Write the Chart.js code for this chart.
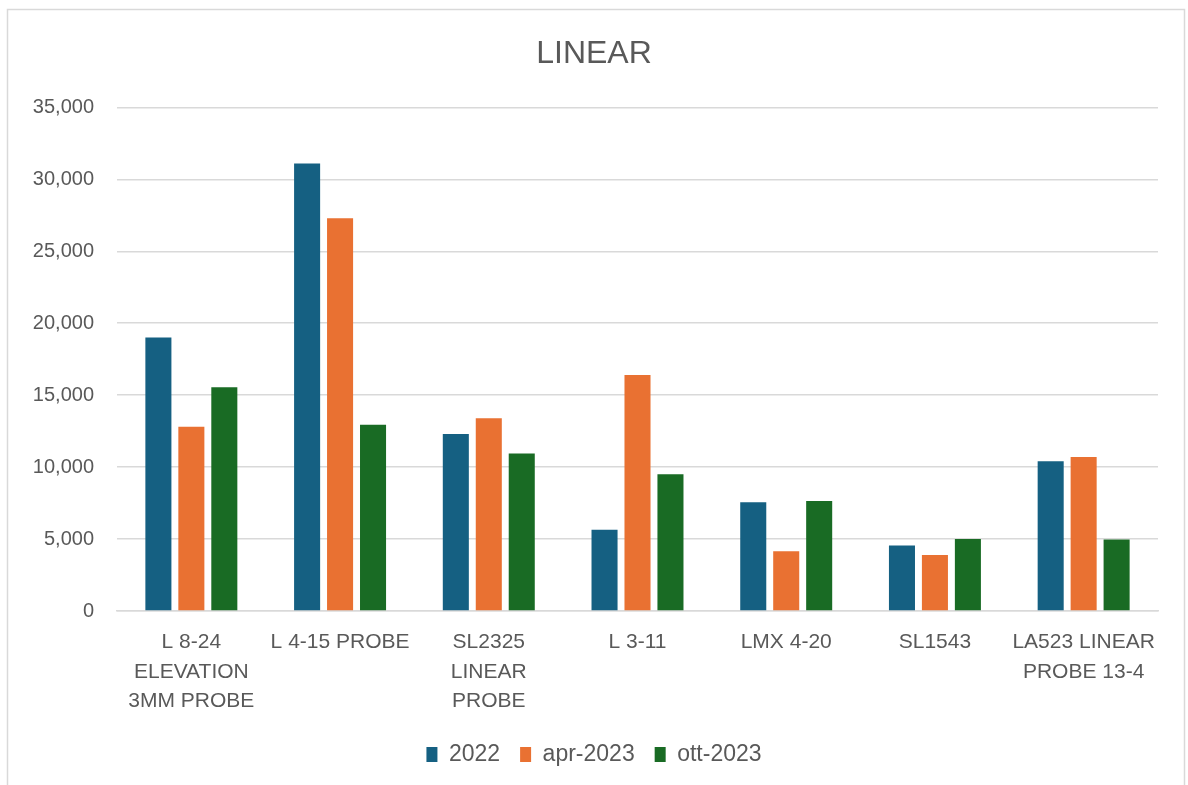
<!DOCTYPE html>
<html>
<head>
<meta charset="utf-8">
<script src="https://cdn.jsdelivr.net/npm/chart.js@4.4.1/dist/chart.umd.min.js"></script>
<style>
  html, body { margin: 0; padding: 0; background: #ffffff; }
  #wrap { position: relative; width: 1188px; height: 785px; }
  canvas { display: block; }
</style>
</head>
<body>
<div id="wrap"><canvas id="c" width="1188" height="785"></canvas></div>
<script>
const categories = [
  ["L 8-24", "ELEVATION", "3MM PROBE"],
  ["L 4-15 PROBE"],
  ["SL2325", "LINEAR", "PROBE"],
  ["L 3-11"],
  ["LMX 4-20"],
  ["SL1543"],
  ["LA523 LINEAR", "PROBE 13-4"]
];
const seriesNames = ["2022", "apr-2023", "ott-2023"];
const values2022 = [19000, 31100, 12300, 5650, 7550, 4550, 10400];
const valuesApr2023 = [12800, 27300, 13400, 16400, 4150, 3900, 10700];
const valuesOtt2023 = [15550, 12950, 10950, 9500, 7650, 5000, 4970];
const colors = ["#156082", "#E97132", "#196B24"];
const yTicks = [0, 5000, 10000, 15000, 20000, 25000, 30000, 35000];

const FONT = "'Liberation Sans', Arial, sans-serif";
const TXT = "#595959";

const borderPlugin = {
  id: 'outerBorder',
  beforeDraw(chart) {
    const ctx = chart.ctx;
    ctx.save();
    ctx.fillStyle = '#ffffff';
    ctx.fillRect(0, 0, chart.width, chart.height);
    ctx.strokeStyle = '#d9d9d9';
    ctx.lineWidth = 1.5;
    ctx.strokeRect(7.5, 9.5, 1177, 800);
    ctx.restore();
  }
};

const datasets = [values2022, valuesApr2023, valuesOtt2023].map((d, i) => ({
  label: seriesNames[i],
  data: d,
  backgroundColor: colors[i],
  borderWidth: 0,
  categoryPercentage: 0.665,
  barPercentage: 0.79
}));

new Chart(document.getElementById('c'), {
  type: 'bar',
  data: { labels: categories, datasets },
  options: {
    responsive: false,
    animation: false,
    layout: { padding: { top: 0, left: 30, right: 30, bottom: 9 } },
    plugins: {
      title: {
        display: true,
        text: 'LINEAR',
        color: TXT,
        font: { family: FONT, size: 32, weight: 'normal', lineHeight: 1.2 },
        padding: { top: 35, bottom: 34 }
      },
      legend: {
        position: 'bottom',
        labels: {
          color: TXT,
          font: { family: FONT, size: 23 },
          boxWidth: 11,
          boxHeight: 15,
          padding: 20
        }
      },
      tooltip: { enabled: false }
    },
    scales: {
      x: {
        grid: { display: false, drawTicks: false },
        border: { display: true, color: '#d9d9d9', width: 1.5 },
        ticks: {
          color: TXT,
          font: { family: FONT, size: 21, lineHeight: 1.4 },
          padding: 17,
          maxRotation: 0,
          autoSkip: false
        },
        afterFit(s) { s.height = 112; }
      },
      y: {
        min: 0,
        max: 35000,
        grid: { color: '#d9d9d9', lineWidth: 1.5, drawTicks: false },
        border: { display: false },
        afterBuildTicks(s) { s.ticks = yTicks.map(v => ({ value: v })); },
        ticks: {
          color: TXT,
          font: { family: FONT, size: 20 },
          padding: 23,
          callback: v => v.toLocaleString('en-US')
        },
        afterFit(s) { s.width = 87; }
      }
    }
  },
  plugins: [borderPlugin]
});
</script>
</body>
</html>
